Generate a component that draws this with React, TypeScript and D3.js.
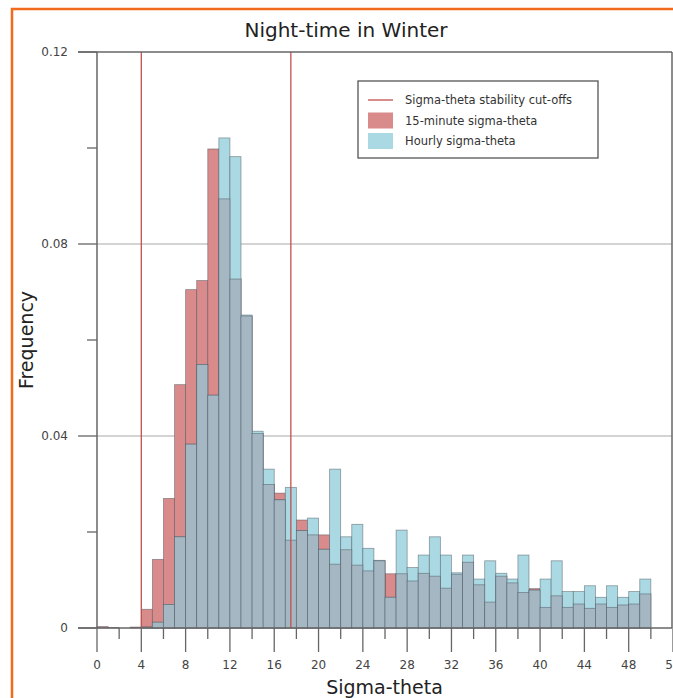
import React from "react";
import * as d3 from "d3";

const binStarts = d3.range(0, 50);
const red15 = [
  0.0003, 0.0001, 0.0, 0.0002, 0.0039, 0.0143, 0.027, 0.0507, 0.0705, 0.0724,
  0.0998, 0.0894, 0.0727, 0.065, 0.0405, 0.0299, 0.0281, 0.0183, 0.0225, 0.0194,
  0.0194, 0.0133, 0.0163, 0.0131, 0.0119, 0.014, 0.0113, 0.0113, 0.0098, 0.0114,
  0.0108, 0.0083, 0.0112, 0.0137, 0.009, 0.0054, 0.0108, 0.0094, 0.0074, 0.0082,
  0.0043, 0.0067, 0.0043, 0.005, 0.0041, 0.005, 0.0043, 0.0048, 0.005, 0.0071,
];
const blueHr = [
  0, 0, 0, 0, 0.0002, 0.0012, 0.0049, 0.019, 0.0383, 0.0549,
  0.0485, 0.1021, 0.0982, 0.0652, 0.041, 0.0331, 0.0267, 0.0293, 0.0203, 0.0229,
  0.0164, 0.0331, 0.019, 0.0216, 0.0166, 0.0141, 0.0064, 0.0204, 0.0126, 0.0152,
  0.019, 0.0152, 0.0115, 0.0152, 0.0102, 0.014, 0.0114, 0.0102, 0.0152, 0.0079,
  0.0102, 0.014, 0.0076, 0.0076, 0.0088, 0.0064, 0.0088, 0.0064, 0.0076, 0.0102,
];
const cutoffs = [4, 17.5];
const xMajorTicks = d3.range(0, 53, 4);
const xMinorTicks = d3.range(2, 53, 4);
const yMajorTicks = [0, 0.04, 0.08, 0.12];
const yMinorTicks = [0.02, 0.06, 0.1];
const yGrid = [0.04, 0.08];
const legendItems = [
  { label: "Sigma-theta stability cut-offs", kind: "line" },
  { label: "15-minute sigma-theta", kind: "red" },
  { label: "Hourly sigma-theta", kind: "blue" },
];

const RED = "#d98a8a";
const BLUE = "#aad9e3";
const OVER = "#a4b7c3";
const CUT = "#c0504d";
const AXIS = "#666";
const FONT = "DejaVu Sans, sans-serif";

export default function App() {
  const W = 673;
  const H = 698;
  const x = d3.scaleLinear().domain([0, 52]).range([97, 673]);
  const y = d3.scaleLinear().domain([0, 0.12]).range([628, 52]);
  const right = 672;
  const left = x(0);
  const bw = x(1) - x(0);

  const bars = (vals: number[], fill: string, key: string) =>
    binStarts.map((b, i) =>
      vals[i] > 0 ? (
        <rect
          key={key + i}
          x={x(b)}
          y={y(vals[i])}
          width={bw}
          height={y(0) - y(vals[i])}
          fill={fill}
          stroke="rgba(70,80,90,0.55)"
          strokeWidth={0.8}
        />
      ) : null
    );
  const overlap = binStarts.map((_, i) => Math.min(red15[i], blueHr[i]));

  return (
    <svg
      width={W}
      height={H}
      style={{ position: "absolute", left: 0, top: 0, background: "#fff" }}
      fontFamily={FONT}
    >
      {/* orange frame */}
      <path d={`M12,${H} L12,9 L${W},9`} fill="none" stroke="#f26a1b" strokeWidth={2.5} />

      <text x={346} y={37} textAnchor="middle" fontSize={20} fill="#222">
        Night-time in Winter
      </text>

      {/* grid */}
      {yGrid.map((v) => (
        <line key={"g" + v} x1={left} x2={right} y1={y(v)} y2={y(v)} stroke="#a8a8a8" strokeWidth={1} />
      ))}

      {/* bars */}
      {bars(red15, RED, "r")}
      {bars(blueHr, BLUE, "b")}
      {bars(overlap, OVER, "o")}

      {/* cut-offs */}
      {cutoffs.map((c) => (
        <line key={"c" + c} x1={x(c)} x2={x(c)} y1={y(0.12)} y2={y(0)} stroke={CUT} strokeWidth={1.3} />
      ))}

      {/* axes frame */}
      <line x1={78} x2={right} y1={y(0.12)} y2={y(0.12)} stroke={AXIS} strokeWidth={1.5} />
      <line x1={right} x2={right} y1={y(0.12)} y2={y(0)} stroke={AXIS} strokeWidth={1.5} />
      <line x1={left} x2={left} y1={y(0.12)} y2={y(0)} stroke={AXIS} strokeWidth={1.5} />
      <line x1={78} x2={right} y1={y(0)} y2={y(0)} stroke={AXIS} strokeWidth={1.5} />

      {/* y ticks */}
      {yMajorTicks.map((v) => (
        <g key={"ym" + v}>
          <line x1={78} x2={left} y1={y(v)} y2={y(v)} stroke={AXIS} strokeWidth={1.3} />
          <text x={68} y={y(v)} dy="0.35em" textAnchor="end" fontSize={12} fill="#444">
            {v === 0 ? "0" : d3.format(".2f")(v)}
          </text>
        </g>
      ))}
      {yMinorTicks.map((v) => (
        <line key={"yn" + v} x1={87} x2={left} y1={y(v)} y2={y(v)} stroke={AXIS} strokeWidth={1.3} />
      ))}

      {/* x ticks */}
      {xMajorTicks.map((v) => (
        <g key={"xm" + v}>
          <line x1={x(v)} x2={x(v)} y1={y(0)} y2={652} stroke={AXIS} strokeWidth={1.3} />
          <text x={x(v)} y={669} textAnchor="middle" fontSize={12} fill="#444">
            {v}
          </text>
        </g>
      ))}
      {xMinorTicks.map((v) => (
        <line key={"xn" + v} x1={x(v)} x2={x(v)} y1={y(0)} y2={639} stroke={AXIS} strokeWidth={1.3} />
      ))}

      <text x={(left + right) / 2} y={694} textAnchor="middle" fontSize={19} fill="#222">
        Sigma-theta
      </text>
      <text
        transform={`translate(33,${(y(0) + y(0.12)) / 2}) rotate(-90)`}
        textAnchor="middle"
        fontSize={19}
        fill="#222"
      >
        Frequency
      </text>

      {/* legend */}
      <rect x={358} y={81} width={240} height={77} fill="#fff" stroke="#555" strokeWidth={1.3} />
      {legendItems.map((it, i) => {
        const cy = 100 + i * 20.5;
        return (
          <g key={it.label}>
            {it.kind === "line" ? (
              <line x1={368} x2={393} y1={cy} y2={cy} stroke={CUT} strokeWidth={1.3} />
            ) : (
              <rect x={368} y={cy - 8} width={25} height={16} fill={it.kind === "red" ? RED : BLUE} />
            )}
            <text x={405} y={cy} dy="0.35em" fontSize={11.5} fill="#333">
              {it.label}
            </text>
          </g>
        );
      })}
    </svg>
  );
}
